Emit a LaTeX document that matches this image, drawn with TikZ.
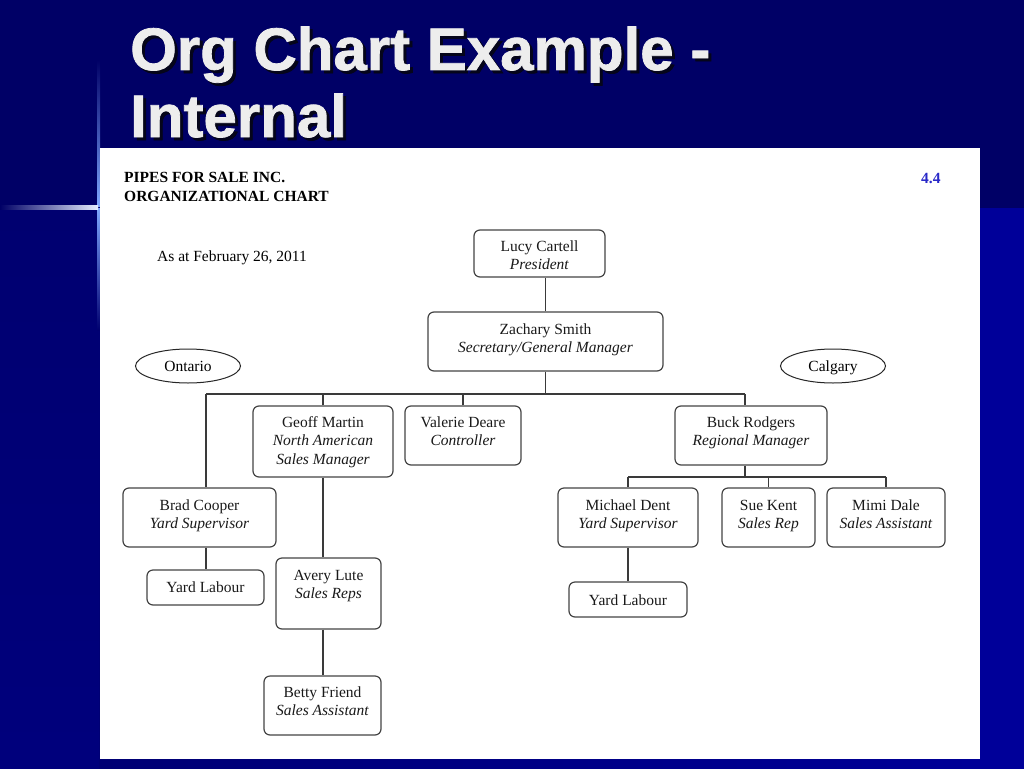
\documentclass[tikz,border=0pt]{standalone}
\usepackage{fontspec}
\setmainfont{Liberation Serif}
\newfontfamily\titlefont{Liberation Sans}[BoldFeatures={FakeBold=1.3}]
\usetikzlibrary{shapes.geometric}
\definecolor{navytop}{HTML}{000066}
\definecolor{navyleft}{HTML}{000070}
\definecolor{bluelow}{HTML}{000099}
\definecolor{glow}{HTML}{7FA8FF}
\definecolor{boxgray}{HTML}{444444}
\definecolor{linegray}{HTML}{3A3A3A}
\definecolor{numblue}{HTML}{2828C8}
\definecolor{shadowcol}{HTML}{05051A}
\newcommand{\shadowed}[1]{\rlap{\hspace{3pt}\raisebox{-3pt}{\textcolor{shadowcol}{#1}}}#1}
\def\tdn{0pt}\def\tup{0pt}
\newcommand{\topln}[1]{\rule[-5.4pt]{0pt}{\dimexpr18pt+\tdn*2\relax}#1}
\newcommand{\midln}[1]{\strut#1}
\newcommand{\lastln}[1]{\rule[\dimexpr-5.4pt-\tup*2\relax]{0pt}{\dimexpr18pt+\tup*2\relax}#1}
\newcommand{\oneln}[1]{\rule[\dimexpr-5.4pt-\tup*2\relax]{0pt}{\dimexpr18pt+\tup*2+\tdn*2\relax}#1}
\tikzset{
  tdown/.code={\def\tdn{#1}},
  tupward/.code={\def\tup{#1}},
  box/.style={draw=boxgray, line width=1.2pt, rounded corners=6pt, fill=white,
    inner sep=0pt, align=center, text=black!90, font=\fontsize{15.5}{18}\selectfont},
  region/.style={draw=black!85, line width=1pt, ellipse, fill=white, inner sep=0pt,
    minimum width=105pt, minimum height=34pt, font=\fontsize{15.5}{18}\selectfont},
  conn/.style={draw=linegray, line width=1.2pt},
  titletext/.style={anchor=base west, inner sep=0pt, text=white!93!black,
    font=\titlefont\bfseries\fontsize{60}{60}\selectfont},
  headtext/.style={anchor=base west, inner sep=0pt, font=\bfseries\fontsize{15.5}{18}\selectfont},
}
\begin{document}
\begin{tikzpicture}[x=1pt,y=-1pt]
\useasboundingbox (0,0) rectangle (1024,768);
% background
\fill[navytop] (0,0) rectangle (1024,768);
\shade[left color=navyleft, right color=bluelow] (0,208) rectangle (1024,768);
\fill[bluelow] (980,208) rectangle (1024,768);
\shade[top color=navyleft, bottom color=navyleft!70!bluelow] (0,208) rectangle (99,768);
% glow lines
\shade[top color=navytop, bottom color=glow] (97,60) rectangle (100,206);
\shade[top color=glow, bottom color=navyleft] (97,208) rectangle (100,330);
\shade[left color=navytop, right color=white!80!glow] (0,205) rectangle (98,209);
% title
\node[titletext] (t1) at (130,70) {\shadowed{Org Chart Example -}};
\node[titletext] (t2) at (130,137) {\shadowed{Internal}};
% white panel
\fill[white] (100,148) rectangle (980,759);
% headings
\node[headtext] (h1) at (124,182) {PIPES FOR SALE INC.};
\node[headtext] (h2) at (124,201) {ORGANIZATIONAL CHART};
\node[headtext, text=numblue] (num) at (921,183) {4.4};
\node[anchor=base west, inner sep=0pt, font=\fontsize{15.5}{18}\selectfont] (date) at (157,261) {As at February 26, 2011};
% regions
\node[region, tdown=2pt] (ontario) at (188,366) {\oneln{Ontario}};
\node[region, tdown=2pt] (calgary) at (833,366) {\oneln{Calgary}};
% boxes
\node[box, tdown=3pt, minimum width=131pt, minimum height=47pt] (lucy) at (539.5,253.5) {\topln{Lucy Cartell}\\\lastln{\textit{President}}};
\node[box, tupward=2pt, minimum width=235pt, minimum height=59pt] (zach) at (545.5,341.5) {\topln{Zachary Smith}\\\lastln{\textit{Secretary/General Manager}}};
\node[box, tdown=1pt, minimum width=140pt, minimum height=71pt] (geoff) at (323,441.5) {\topln{Geoff Martin}\\\midln{\textit{North American}}\\\lastln{\textit{Sales Manager}}};
\node[box, tupward=2.5pt, minimum width=116pt, minimum height=59pt] (valerie) at (463,435.5) {\topln{Valerie Deare}\\\lastln{\textit{Controller}}};
\node[box, tupward=2.3pt, minimum width=152pt, minimum height=59pt] (buck) at (751,435.5) {\topln{Buck Rodgers}\\\lastln{\textit{Regional Manager}}};
\node[box, tupward=2pt, minimum width=153pt, minimum height=59pt] (brad) at (199.5,517.5) {\topln{Brad Cooper}\\\lastln{\textit{Yard Supervisor}}};
\node[box, tupward=1.4pt, minimum width=140pt, minimum height=59pt] (michael) at (628,517.5) {\topln{Michael Dent}\\\lastln{\textit{Yard Supervisor}}};
\node[box, tupward=1.4pt, minimum width=93pt, minimum height=59pt] (sue) at (768.5,517.5) {\topln{Sue Kent}\\\lastln{\textit{Sales Rep}}};
\node[box, tupward=1.4pt, minimum width=118pt, minimum height=59pt] (mimi) at (886,517.5) {\topln{Mimi Dale}\\\lastln{\textit{Sales Assistant}}};
\node[box, tdown=1.7pt, minimum width=117pt, minimum height=35pt] (yardl) at (205.5,587.5) {\oneln{Yard Labour}};
\node[box, tdown=2pt, minimum width=118pt, minimum height=35pt] (yardr) at (628,599.5) {\oneln{Yard Labour}};
\node[box, tdown=2pt, minimum width=105pt, minimum height=71pt] (avery) at (328.5,593.5) {\topln{Avery Lute}\\\midln{\textit{Sales Reps}}\\\lastln{}};
\node[box, tupward=2.3pt, minimum width=117pt, minimum height=59pt] (betty) at (322.5,705.5) {\topln{Betty Friend}\\\lastln{\textit{Sales Assistant}}};
% bus coordinates
\coordinate (busL) at (206,394);
\coordinate (busR) at (745,394);
\coordinate (bus2L) at (628,477);
\coordinate (bus2R) at (886,477);
% connectors
\draw[conn] (zach.north) -- (zach.north |- lucy.south);
\draw[conn] (zach.south) -- (zach.south |- busL);
\draw[conn] (busL) -- (busR);
\draw[conn] (busL) -- (busL |- brad.north);
\draw[conn] (geoff.north) -- (geoff.north |- busL);
\draw[conn] (valerie.north) -- (valerie.north |- busL);
\draw[conn] (busR) -- (busR |- buck.north);
\draw[conn] (busR |- buck.south) -- (busR |- bus2L);
\draw[conn] (bus2L) -- (bus2R);
\draw[conn] (bus2L) -- (michael.north);
\draw[conn] (sue.north) -- (sue.north |- bus2L);
\draw[conn] (bus2R) -- (mimi.north);
\draw[conn] (michael.south) -- (yardr.north);
\draw[conn] (busL |- brad.south) -- (busL |- yardl.north);
\draw[conn] (geoff.south) -- (geoff.south |- avery.north);
\draw[conn] (geoff.south |- avery.south) -- (geoff.south |- betty.north);
\end{tikzpicture}
\end{document}
